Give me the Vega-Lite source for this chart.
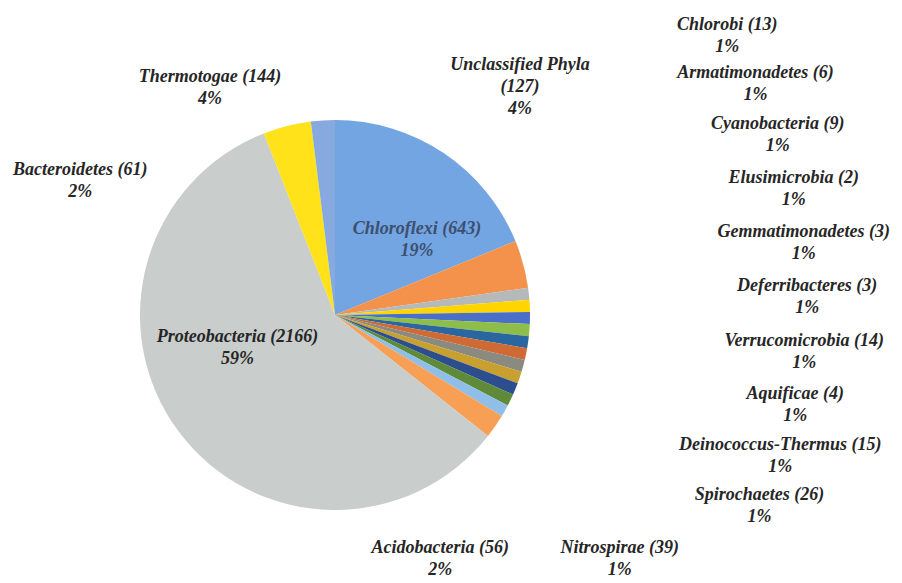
{
  "$schema": "https://vega.github.io/schema/vega-lite/v6.json",
  "width": 670,
  "height": 630,
  "padding": 0,
  "background": "white",
  "config": {"view": {"stroke": null}},
  "data": {
    "values": [
      {"idx": 1, "phylum": "Chloroflexi", "count": 643, "pct": 19},
      {"idx": 2, "phylum": "Unclassified Phyla", "count": 127, "pct": 4},
      {"idx": 3, "phylum": "Chlorobi", "count": 13, "pct": 1},
      {"idx": 4, "phylum": "Armatimonadetes", "count": 6, "pct": 1},
      {"idx": 5, "phylum": "Cyanobacteria", "count": 9, "pct": 1},
      {"idx": 6, "phylum": "Elusimicrobia", "count": 2, "pct": 1},
      {"idx": 7, "phylum": "Gemmatimonadetes", "count": 3, "pct": 1},
      {"idx": 8, "phylum": "Deferribacteres", "count": 3, "pct": 1},
      {"idx": 9, "phylum": "Verrucomicrobia", "count": 14, "pct": 1},
      {"idx": 10, "phylum": "Aquificae", "count": 4, "pct": 1},
      {"idx": 11, "phylum": "Deinococcus-Thermus", "count": 15, "pct": 1},
      {"idx": 12, "phylum": "Spirochaetes", "count": 26, "pct": 1},
      {"idx": 13, "phylum": "Nitrospirae", "count": 39, "pct": 1},
      {"idx": 14, "phylum": "Acidobacteria", "count": 56, "pct": 2},
      {"idx": 15, "phylum": "Proteobacteria", "count": 2166, "pct": 59},
      {"idx": 16, "phylum": "Thermotogae", "count": 144, "pct": 4},
      {"idx": 17, "phylum": "Bacteroidetes", "count": 61, "pct": 2}
    ]
  },
  "transform": [
    {"calculate": "datum.phylum + (datum.phylum == 'Unclassified Phyla' ? '\\n' : ' ') + '(' + datum.count + ')\\n' + datum.pct + '%'", "as": "label"}
  ],
  "resolve": {"scale": {"theta": "independent", "radius": "independent"}},
  "layer": [
    {
      "mark": {"type": "arc", "outerRadius": 195, "stroke": null},
      "encoding": {
        "theta": {"field": "pct", "type": "quantitative", "stack": true},
        "order": {"field": "idx", "type": "quantitative"},
        "color": {
          "field": "phylum",
          "type": "nominal",
          "legend": null,
          "scale": {
            "domain": ["Chloroflexi", "Unclassified Phyla", "Chlorobi", "Armatimonadetes", "Cyanobacteria", "Elusimicrobia", "Gemmatimonadetes", "Deferribacteres", "Verrucomicrobia", "Aquificae", "Deinococcus-Thermus", "Spirochaetes", "Nitrospirae", "Acidobacteria", "Proteobacteria", "Thermotogae", "Bacteroidetes"],
            "range": ["#72a5e2", "#f4914a", "#b5b9ba", "#ffd500", "#4a6fc8", "#8dbe4a", "#2a66a0", "#d06a35", "#8a8a80", "#c8a030", "#2d4e8e", "#5e8a3a", "#8fbee8", "#f7a055", "#c9cdcc", "#ffe21a", "#86a9e0"]
          }
        }
      }
    },
    {
      "mark": {"type": "text", "font": "Liberation Serif", "fontStyle": "italic", "fontWeight": "bold", "fontSize": 18, "lineHeight": 22, "lineBreak": "\n", "align": "center", "baseline": "middle"},
      "encoding": {
        "theta": {"field": "idx", "type": "quantitative", "stack": null, "scale": {"type": "linear", "domain": [1, 2, 3, 12, 13, 14, 15, 16, 17], "range": [0.761, 0.637, 0.934, 1.971, 2.257, 2.718, 4.492, 5.800, 5.229]}},
        "radius": {"field": "idx", "type": "quantitative", "scale": {"type": "linear", "zero": false, "domain": [1, 2, 3, 12, 13, 14, 15, 16, 17], "range": [119, 311, 488, 461, 368, 256, 100, 269, 293]}},
        "text": {"field": "label"},
        "color": {
          "condition": {"test": "datum.phylum == 'Chloroflexi'", "value": "#3d4f6e"},
          "value": "#262626"
        }
      }
    }
  ]
}
